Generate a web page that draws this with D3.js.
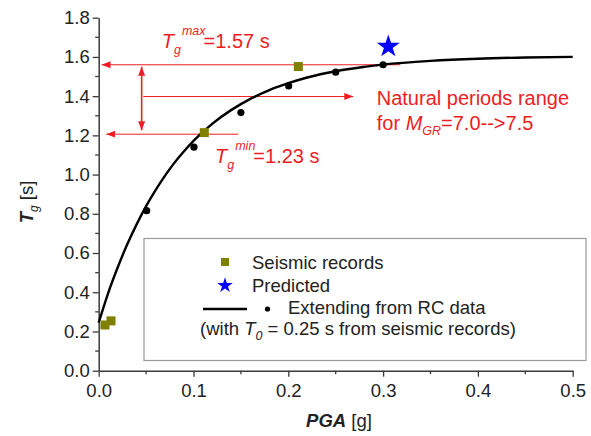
<!DOCTYPE html>
<html><head><meta charset="utf-8">
<script src="https://cdn.jsdelivr.net/npm/d3@7"></script>
<style>
body{margin:0;background:#fff;}
text{font-family:"Liberation Sans",Arial,sans-serif;}
</style></head>
<body>
<svg id="c" width="591" height="436"></svg>
<script>
// ---- data ----
const xTicks = [0.0, 0.1, 0.2, 0.3, 0.4, 0.5];
const yTicks = [0.0, 0.2, 0.4, 0.6, 0.8, 1.0, 1.2, 1.4, 1.6, 1.8];
const seismicPGA = [0.0066, 0.013, 0.1114, 0.2106];
const seismicTg  = [0.233, 0.254, 1.214, 1.551];
const rcPGA = [0.0506, 0.1005, 0.150, 0.2004, 0.250, 0.300];
const rcTg  = [0.816, 1.140, 1.316, 1.452, 1.522, 1.560];
const predictedPGA = [0.3055];
const predictedTg  = [1.653];
const curvePGA = [0, 0.01, 0.02, 0.03, 0.04, 0.05, 0.06, 0.07, 0.08, 0.09, 0.10, 0.12, 0.14, 0.16, 0.18, 0.20, 0.22, 0.25, 0.28, 0.30, 0.35, 0.40, 0.45, 0.50];
const curveTg  = [0.245, 0.396, 0.526, 0.643, 0.746, 0.839, 0.921, 0.995, 1.061, 1.119, 1.172, 1.260, 1.330, 1.386, 1.431, 1.466, 1.495, 1.527, 1.549, 1.561, 1.580, 1.591, 1.597, 1.600];
const TgMax = 1.56, TgMin = 1.206, TgMid = 1.398;

const svg = d3.select("#c");
const x = d3.scaleLinear().domain([0, 0.5]).range([98.7, 572.7]);
const y = d3.scaleLinear().domain([0, 1.8]).range([370.7, 17.7]);
const red = "#ee1d23", axisCol = "#3a3a3a";

// markers
const defs = svg.append("defs");
defs.append("marker").attr("id","ah").attr("markerUnits","userSpaceOnUse")
  .attr("viewBox","0 -4 10 8").attr("refX",9).attr("refY",0)
  .attr("markerWidth",10).attr("markerHeight",8).attr("orient","auto-start-reverse")
  .append("path").attr("d","M0,-3.5L9,0L0,3.5Z").attr("fill",red);

// legend box
svg.append("rect").attr("x",144).attr("y",238.5).attr("width",442).attr("height",122)
  .attr("fill","#fff").attr("stroke","#9a9a9a").attr("stroke-width",1.2);

// annotations (red)
const ann = svg.append("g").attr("stroke",red).attr("fill","none");
ann.append("line").attr("x1",x(0.318)).attr("x2",x(0.003)).attr("y1",y(TgMax)).attr("y2",y(TgMax))
  .attr("stroke-width",1).attr("marker-end","url(#ah)");
ann.append("line").attr("x1",x(0.1473)).attr("x2",x(0.008)).attr("y1",y(TgMin)).attr("y2",y(TgMin))
  .attr("stroke-width",1).attr("marker-end","url(#ah)");
ann.append("line").attr("x1",x(0.047)).attr("x2",x(0.2686)).attr("y1",y(TgMid)).attr("y2",y(TgMid))
  .attr("stroke-width",1).attr("marker-end","url(#ah)");
ann.append("line").attr("x1",x(0.0453)).attr("x2",x(0.0453)).attr("y1",y(TgMin+0.02)).attr("y2",y(TgMax-0.01))
  .attr("stroke-width",1.6).attr("marker-end","url(#ah)").attr("marker-start","url(#ah)");

// axes
const gx = svg.append("g").attr("transform",`translate(0,${y(0)})`);
gx.call(d3.axisBottom(x).tickValues(xTicks).tickFormat(d3.format(".1f")).tickSize(6).tickSizeOuter(0).tickPadding(7));
const gy = svg.append("g").attr("transform",`translate(${x(0)},0)`);
gy.call(d3.axisLeft(y).tickValues(yTicks).tickFormat(d3.format(".1f")).tickSize(6).tickSizeOuter(0).tickPadding(3));
[gx,gy].forEach(g=>{
  g.select(".domain").attr("stroke",axisCol).attr("stroke-width",1.5);
  g.selectAll(".tick line").attr("stroke",axisCol).attr("stroke-width",1.3);
  g.selectAll(".tick text").attr("fill","#222").style("font-size","18.5px").style("font-family","Liberation Sans, Arial, sans-serif");
});
// minor ticks
gx.selectAll(".mt").data([0.05,0.15,0.25,0.35,0.45]).enter().append("line")
  .attr("x1",d=>x(d)).attr("x2",d=>x(d)).attr("y1",0).attr("y2",3.5).attr("stroke",axisCol).attr("stroke-width",1.3);
gy.selectAll(".mt").data([0.1,0.3,0.5,0.7,0.9,1.1,1.3,1.5,1.7]).enter().append("line")
  .attr("y1",d=>y(d)).attr("y2",d=>y(d)).attr("x1",0).attr("x2",-3.5).attr("stroke",axisCol).attr("stroke-width",1.3);

// axis titles
const xt = svg.append("text").attr("x",339).attr("y",427).attr("text-anchor","middle")
  .attr("fill","#222").style("font-size","18.5px");
xt.append("tspan").attr("font-weight","bold").attr("font-style","italic").text("PGA");
xt.append("tspan").text(" [g]");
const yt = svg.append("text").attr("transform","translate(33,202) rotate(-90)").attr("text-anchor","middle")
  .attr("fill","#222").style("font-size","18.5px");
yt.append("tspan").attr("font-weight","bold").attr("font-style","italic").text("T");
yt.append("tspan").attr("font-style","italic").attr("dy",5).style("font-size","12px").text("g");
yt.append("tspan").attr("dy",-5).text(" [s]");

// curve
const line = d3.line().x((d,i)=>x(curvePGA[i])).y((d,i)=>y(curveTg[i])).curve(d3.curveMonotoneX);
svg.append("path").datum(curvePGA).attr("d",line).attr("fill","none").attr("stroke","#000").attr("stroke-width",2.4);

// RC points
svg.selectAll(".rc").data(rcPGA).enter().append("circle")
  .attr("cx",d=>x(d)).attr("cy",(d,i)=>y(rcTg[i])).attr("r",3.6).attr("fill","#000");
// seismic squares
svg.selectAll(".sq").data(seismicPGA).enter().append("rect")
  .attr("x",d=>x(d)-4.5).attr("y",(d,i)=>y(seismicTg[i])-4.5).attr("width",9).attr("height",9).attr("fill","#808000");
// predicted star
svg.selectAll(".st").data(predictedPGA).enter().append("path")
  .attr("transform",(d,i)=>`translate(${x(d)},${y(predictedTg[i])})`)
  .attr("d",d3.symbol().type(d3.symbolStar).size(165)).attr("fill","#0000ff");

// red texts
function tlabel(px, py, val, sup){
  const t = svg.append("text").attr("x",px).attr("y",py).attr("fill",red).style("font-size","20px");
  t.append("tspan").attr("font-style","italic").text("T");
  t.append("tspan").attr("font-style","italic").attr("dx",0).attr("dy",6).style("font-size","12.5px").text("g");
  t.append("tspan").attr("font-style","italic").attr("dx",1).attr("dy",-19).style("font-size","12.5px").text(sup);
  t.append("tspan").attr("dx",-2).attr("dy",13).text("=" + val + " s");
}
tlabel(x(0.0665), y(1.644), "1.57", "max");
tlabel(x(0.1227), y(1.058), "1.23", "min");
svg.append("text").attr("x",x(0.2933)).attr("y",y(1.355)).attr("fill",red).style("font-size","20px").text("Natural periods range");
const ft = svg.append("text").attr("x",x(0.2933)).attr("y",y(1.227)).attr("fill",red).style("font-size","20px");
ft.append("tspan").text("for ");
ft.append("tspan").attr("font-style","italic").text("M");
ft.append("tspan").attr("font-style","italic").attr("dy",5).style("font-size","12.5px").text("GR");
ft.append("tspan").attr("dy",-5).text("=7.0-->7.5");

// legend content
svg.append("rect").attr("x",221).attr("y",258).attr("width",8).attr("height",8).attr("fill","#808000");
svg.append("path").attr("transform","translate(225,285.5)").attr("d",d3.symbol().type(d3.symbolStar).size(75)).attr("fill","#0000ff");
svg.append("line").attr("x1",203).attr("x2",247).attr("y1",309).attr("y2",309).attr("stroke","#000").attr("stroke-width",2.4);
svg.append("circle").attr("cx",267.5).attr("cy",309).attr("r",2.6).attr("fill","#000");
const lg = svg.append("g").attr("fill","#222").style("font-size","18.5px");
lg.append("text").attr("x",252).attr("y",268.5).text("Seismic records");
lg.append("text").attr("x",252).attr("y",291.5).text("Predicted");
lg.append("text").attr("x",288).attr("y",314).text("Extending from RC data");
const wt = lg.append("text").attr("x",200).attr("y",334.5);
wt.append("tspan").text("(with ");
wt.append("tspan").attr("font-style","italic").text("T");
wt.append("tspan").attr("font-style","italic").attr("dy",5).style("font-size","12.5px").text("0");
wt.append("tspan").attr("dy",-5).text(" = 0.25 s from seismic records)");
</script>
</body></html>
